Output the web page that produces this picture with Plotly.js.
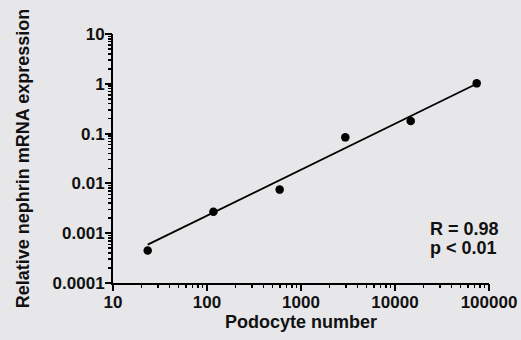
<!DOCTYPE html>
<html>
<head>
<meta charset="utf-8">
<script src="https://cdn.plot.ly/plotly-3.0.1.min.js"></script>
<style>html,body{margin:0;padding:0;background:#e7e7e9;}#chart{width:521px;height:340px;}</style>
</head>
<body>
<div id="chart"></div>
<script>
// Data
const podocyteNumber = [23.4, 117, 593, 2960, 14700, 74000];
const nephrinExpr = [0.00045, 0.0027, 0.0075, 0.084, 0.18, 1.02];
const fitX = [23.4, 74000];
const fitY = [0.00059, 1.0];
const xTickVals = [10, 100, 1000, 10000, 100000];
const xTickText = ['10', '100', '1000', '10000', '100000'];
const yTickVals = [0.0001, 0.001, 0.01, 0.1, 1, 10];
const yTickText = ['0.0001', '0.001', '0.01', '0.1', '1', '10'];
const minorMultipliers = [2, 3, 4, 5, 6, 7, 8, 9];
const statsLine1 = 'R = 0.98';
const statsLine2 = 'p < 0.01';

const FONT = 'Liberation Sans, Arial, sans-serif';
const BG = '#e7e7e9';
const TXT = '#111';

// all ticks (decades labelled, in-between ticks unlabelled)
function allTicks(decades, labels) {
  const vals = [], text = [];
  for (let i = 0; i < decades.length; i++) {
    vals.push(decades[i]); text.push(labels[i]);
    if (i < decades.length - 1) {
      minorMultipliers.forEach(m => { vals.push(decades[i] * m); text.push(''); });
    }
  }
  return {vals, text};
}
const xt = allTicks(xTickVals, xTickText);
const yt = allTicks(yTickVals, yTickText);

const traces = [
  {x: fitX, y: fitY, mode: 'lines', type: 'scatter',
   line: {color: '#000', width: 1.8}, hoverinfo: 'skip'},
  {x: podocyteNumber, y: nephrinExpr, mode: 'markers', type: 'scatter',
   marker: {color: '#000', size: 8.5}},
  // invisible trace to carry the major-tick axes
  {x: [podocyteNumber[0]], y: [nephrinExpr[0]], xaxis: 'x2', yaxis: 'y2', mode: 'markers',
   type: 'scatter', marker: {opacity: 0}, hoverinfo: 'skip'}
];

const tickFont = {family: FONT, size: 17, color: TXT, weight: 'bold'};
const titleFont = {family: FONT, size: 18, color: TXT, weight: 'bold'};

const axisCommon = {
  type: 'log', showgrid: false, zeroline: false, showline: true,
  linecolor: '#000', linewidth: 2, ticks: 'outside', ticklen: 3,
  tickwidth: 1.5, tickcolor: '#000', tickmode: 'array', tickfont: tickFont
};
const majorCommon = {
  type: 'log', showgrid: false, zeroline: false, showline: false,
  ticks: 'outside', ticklen: 7, tickwidth: 2, tickcolor: '#000',
  tickmode: 'array', showticklabels: false
};

const layout = {
  width: 521, height: 340,
  paper_bgcolor: BG, plot_bgcolor: BG,
  margin: {l: 113, r: 32, t: 33.5, b: 56.5},
  showlegend: false,
  xaxis: Object.assign({}, axisCommon, {
    range: [1, 5], tickvals: xt.vals, ticktext: xt.text,
    title: {text: 'Podocyte number', standoff: 4, font: titleFont}
  }),
  yaxis: Object.assign({}, axisCommon, {
    range: [-4, 1], tickvals: yt.vals, ticktext: yt.text,
    title: {text: 'Relative nephrin mRNA expression', standoff: 18, font: titleFont}
  }),
  xaxis2: Object.assign({}, majorCommon, {
    overlaying: 'x', anchor: 'y', side: 'bottom', range: [1, 5], tickvals: xTickVals
  }),
  yaxis2: Object.assign({}, majorCommon, {
    overlaying: 'y', anchor: 'x', side: 'left', range: [-4, 1], tickvals: yTickVals
  }),
  annotations: [
    {xref: 'paper', yref: 'paper', x: 0.838, y: (283.5 - 229) / 250, xanchor: 'left', yanchor: 'middle',
     text: statsLine1, showarrow: false, font: titleFont},
    {xref: 'paper', yref: 'paper', x: 0.838, y: (283.5 - 248) / 250, xanchor: 'left', yanchor: 'middle',
     text: statsLine2, showarrow: false, font: titleFont}
  ]
};

Plotly.newPlot('chart', traces, layout, {displayModeBar: false, staticPlot: true});
</script>
</body>
</html>
